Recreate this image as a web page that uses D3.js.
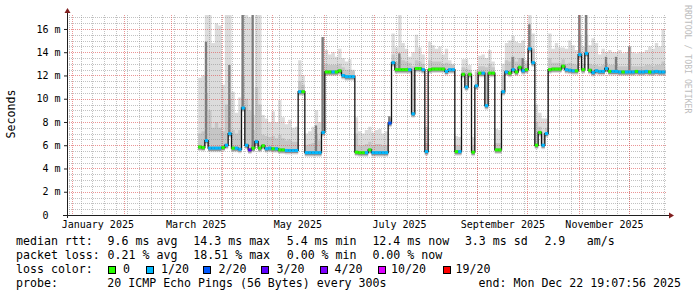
<!DOCTYPE html>
<html>
<head>
<meta charset="utf-8">
<script src="https://cdn.jsdelivr.net/npm/d3@7"></script>
<style>
  body { margin: 0; background: #fff; }
  text { font-family: "DejaVu Sans Mono", monospace; fill: #000; }
</style>
</head>
<body>
<svg id="chart" width="697" height="297"></svg>
<script>
// smokeping year graph, values in ms, one bin every 2 days
const binStart = Date.UTC(2025, 2, 17, 12);   // first bin, 2025-03-17 12:00
const binDays = 2;

const median = [
  5.85, 5.8, 6.4, 5.75, 5.75, 5.75, 5.75, 5.8, 6.0, 7.0,
  5.75, 5.75, 5.65, 9.2, 6.0, 5.6, 5.75, 6.3, 5.75, 5.95,
  5.7, 5.75, 5.7, 5.7, 5.6, 5.6, 5.55, 5.55, 5.55, 5.55,
  10.6, 10.6, 5.36, 5.36, 5.36, 5.36, 5.36, 7.1, 12.3, 12.3,
  12.3, 12.3, 12.4, 12.0, 11.9, 11.9, 11.9, 5.4, 5.36, 5.36,
  5.36, 5.6, 5.36, 5.36, 5.36, 5.36, 5.36, 7.9, 13.1, 12.5,
  12.5, 12.5, 12.5, 12.5, 8.7, 12.6, 12.6, 12.5, 5.45, 12.5,
  12.55, 12.55, 12.55, 12.55, 12.35, 12.5, 12.5, 5.45, 5.45, 12.1,
  11.0, 12.1, 5.4, 11.1, 12.2, 12.2, 9.4, 12.2, 12.2, 5.6,
  5.6, 10.6, 12.3, 12.2, 12.5, 12.3, 12.7, 12.4, 12.5, 14.3,
  13.1, 6.0, 7.1, 6.0, 7.0, 12.5, 12.55, 12.55, 12.55, 12.8,
  12.5, 12.45, 12.4, 12.4, 13.8, 12.5, 13.9, 12.45, 12.25, 12.4,
  12.35, 12.35, 12.6, 12.35, 12.35, 12.35, 12.3, 12.3, 12.3, 12.3,
  12.3, 12.35, 12.3, 12.3, 12.35, 12.3, 12.3, 12.35, 12.3, 12.3, 12.3
];

// lost pings out of 20
const loss = [
  0, 0, 1, 1, 1, 1, 1, 0, 1, 1,
  0, 1, 1, 1, 1, 3, 0, 1, 0, 0,
  1, 1, 0, 1, 0, 0, 1, 1, 1, 1,
  1, 0, 1, 1, 1, 1, 1, 1, 0, 0,
  1, 0, 0, 1, 1, 1, 1, 0, 0, 0,
  1, 0, 1, 1, 1, 1, 1, 2, 1, 0,
  0, 0, 0, 1, 1, 0, 0, 1, 1, 0,
  0, 0, 0, 0, 1, 1, 1, 0, 1, 0,
  1, 0, 0, 1, 0, 1, 1, 0, 0, 0,
  0, 1, 1, 0, 1, 0, 0, 1, 0, 1,
  1, 0, 0, 1, 1, 0, 0, 0, 0, 0,
  1, 1, 1, 0, 1, 0, 1, 0, 1, 1,
  1, 1, 1, 0, 1, 1, 1, 0, 1, 1,
  1, 0, 1, 1, 1, 0, 1, 1, 1, 1, 1
];

// slowest ping of each bin (top of the light smoke)
const smokeMax = [
  11.8, 12.0, 17.3, 17.3, 14.8, 16.5, 16.3, 11.2, 17.3, 17.3,
  10.6, 8.8, 10.1, 17.3, 17.3, 17.0, 8.6, 17.3, 17.3, 8.6,
  8.3, 8.0, 8.9, 8.0, 9.9, 8.4, 7.8, 8.2, 7.5, 7.6,
  13.3, 12.0, 7.0, 7.2, 7.6, 9.0, 8.0, 15.3, 14.2, 13.8,
  14.0, 13.6, 14.3, 13.5, 13.2, 13.4, 12.5, 8.4, 7.2, 7.0,
  7.3, 7.6, 7.1, 7.3, 7.4, 7.0, 7.2, 8.0, 15.6, 14.4,
  17.2, 14.8, 14.3, 13.6, 14.0, 15.5, 14.4, 13.8, 7.6, 14.9,
  14.6, 14.3, 14.5, 13.8, 14.3, 13.3, 13.0, 6.8, 6.7, 13.4,
  13.4, 12.9, 6.7, 12.5, 13.7, 13.8, 13.5, 14.2, 13.2, 7.4,
  7.3, 13.0, 14.8, 15.0, 15.4, 14.9, 14.8, 15.0, 13.3, 17.3,
  15.6, 9.5, 8.8, 8.3, 8.3, 15.6, 14.3, 14.8, 14.4, 14.4,
  14.3, 15.0, 14.6, 14.2, 17.3, 14.5, 17.3, 14.6, 15.2, 14.8,
  13.8, 14.3, 14.0, 14.2, 14.0, 14.0, 14.2, 13.9, 14.0, 14.5,
  14.0, 13.9, 14.0, 14.0, 14.2, 14.5, 14.3, 14.8, 14.5, 16.0, 14.5
];

// top of the inner (darker) smoke band
const smokeMid = [
  7.0, 7.2, 10.5, 9.0, 7.5, 8.0, 7.5, 7.2, 9.5, 10.0,
  7.3, 7.0, 7.3, 12.0, 10.0, 9.0, 7.3, 11.0, 9.5, 6.9,
  6.8, 6.7, 6.8, 6.6, 6.9, 6.6, 6.4, 6.5, 6.3, 6.3,
  11.5, 11.2, 6.0, 6.1, 6.2, 7.0, 6.4, 13.0, 13.0, 12.9,
  12.9, 12.9, 13.0, 12.7, 12.5, 12.5, 12.4, 7.0, 6.0, 6.0,
  6.1, 6.3, 6.0, 6.1, 6.1, 6.0, 6.0, 8.3, 13.8, 13.2,
  13.6, 13.3, 13.2, 13.1, 12.8, 13.3, 13.2, 13.0, 6.2, 13.3,
  13.2, 13.2, 13.2, 13.0, 13.1, 13.0, 12.9, 6.0, 6.0, 12.7,
  12.6, 12.5, 6.0, 12.3, 12.8, 12.8, 12.7, 13.0, 12.7, 6.2,
  6.2, 12.0, 13.3, 13.2, 13.6, 13.2, 13.5, 13.2, 13.0, 16.0,
  14.3, 8.0, 7.6, 7.0, 7.5, 13.5, 13.1, 13.1, 13.1, 13.4,
  13.0, 13.1, 13.0, 12.9, 15.5, 13.0, 15.5, 13.0, 12.9, 12.9,
  12.8, 12.9, 13.1, 12.9, 12.9, 13.0, 12.8, 12.8, 12.8, 13.5,
  12.8, 12.8, 12.8, 12.8, 12.9, 12.9, 12.8, 12.9, 12.9, 13.2, 12.8
];

// narrow dark smoke columns
const spikeDates = [
  "2025-03-21T12:00Z", "2025-04-04T12:00Z", "2025-04-12T12:00Z", "2025-04-18T12:00Z",
  "2025-05-26T12:00Z", "2025-05-30T12:00Z", "2025-07-09T12:00Z", "2025-07-15T12:00Z",
  "2025-09-21T12:00Z", "2025-09-27T12:00Z", "2025-10-01T12:00Z", "2025-10-21T12:00Z",
  "2025-10-31T12:00Z", "2025-11-04T12:00Z", "2025-11-16T12:00Z", "2025-11-22T12:00Z",
  "2025-11-30T12:00Z"
];
const spikeTops = [14.9, 12.9, 17.2, 17.2, 7.7, 15.3, 8.5, 13.9, 13.6, 13.5, 16.4, 12.9, 17.2, 17.2, 13.6, 13.6, 14.5];

const yTicks = [0, 2, 4, 6, 8, 10, 12, 14, 16];
const monthLabels = ["2025-01-01", "2025-03-01", "2025-05-01", "2025-07-01", "2025-09-01", "2025-11-01"];

const lossSteps = [0, 1, 2, 3, 4, 10, 19];
const lossLabels = ["0", "1/20", "2/20", "3/20", "4/20", "10/20", "19/20"];
const lossColors = ["#26ff00", "#00b8ff", "#0059ff", "#5e00ff", "#7e00ff", "#dd00ff", "#ff0000"];

const rttStats = ["median rtt:", "9.6 ms avg", "14.3 ms max", "5.4 ms min", "12.4 ms now", "3.3 ms sd", "2.9", "am/s"];
const lossStats = ["packet loss:", "0.21 % avg", "18.51 % max", "0.00 % min", "0.00 % now"];
const probeText = ["probe:", "20 ICMP Echo Pings (56 Bytes) every 300s"];
const endText = "end: Mon Dec 22 19:07:56 2025";

// ---- layout ----
const svg = d3.select("#chart");
const plotLeft = 67, plotRight = 667, plotTop = 15, plotBottom = 215;
const DAY = 864e5;

const tStart = new Date(Date.UTC(2024, 11, 28, 19, 12));
const tEnd = new Date(tStart.getTime() + 360 * DAY);
const dataEnd = new Date(Date.UTC(2025, 11, 22, 19, 8));

const x = d3.scaleUtc().domain([tStart, tEnd]).range([plotLeft, plotRight]);
const y = d3.scaleLinear().domain([0, 17.2]).range([plotBottom, plotTop]);

function lossColor(v) {
    let c = lossColors[0];
    lossSteps.forEach((s, i) => { if (v >= s) c = lossColors[i]; });
    return c;
}

const bins = median.map((m, i) => ({
    t: new Date(binStart + i * binDays * DAY),
    med: m, loss: loss[i], max: smokeMax[i], mid: smokeMid[i]
}));
const stepped = bins.concat([Object.assign({}, bins[bins.length - 1], { t: dataEnd })]);
const binEnd = (i) => i + 1 < bins.length ? bins[i + 1].t : dataEnd;

svg.append("rect").attr("width", 697).attr("height", 297).attr("fill", "#fff");

svg.append("defs").append("clipPath").attr("id", "plotClip")
   .append("rect").attr("x", plotLeft).attr("y", plotTop)
   .attr("width", 599).attr("height", plotBottom - plotTop);

// smoke
const plot = svg.append("g").attr("clip-path", "url(#plotClip)");

function smoke(hi, off) {
    return d3.area().curve(d3.curveStepAfter)
             .x(d => x(d.t))
             .y0(d => y(d.med) + off)
             .y1(hi);
}

plot.append("path").datum(stepped)
    .attr("d", smoke(d => y(d.max), 4)).attr("fill", "#dcdcdc");
plot.append("path").datum(stepped)
    .attr("d", smoke(d => y(d.mid), 3)).attr("fill", "#c6c6c6");

spikeDates.forEach((s, k) => {
    const t = new Date(s);
    const i = Math.round((t - binStart) / (binDays * DAY));
    plot.append("rect")
        .attr("x", x(t))
        .attr("width", Math.max(1, x(binEnd(i)) - x(t) - 1))
        .attr("y", y(spikeTops[k]))
        .attr("height", y(bins[i].med) - y(spikeTops[k]))
        .attr("fill", "#7c7c7c");
});

plot.append("path").datum(stepped)
    .attr("d", smoke(d => y(d.med) - 1.5, 2.5)).attr("fill", "#8e8e8e");

// grid on top of the smoke
const grid = svg.append("g").attr("shape-rendering", "crispEdges")
                .attr("stroke-dasharray", "1,1");
const minorY = d3.range(1, 35).map(k => k / 2).filter(v => v % 2 !== 0);
const majorY = yTicks.filter(v => v > 0);

grid.selectAll(".minY").data(minorY).enter().append("line")
    .attr("x1", plotLeft).attr("x2", plotRight)
    .attr("y1", d => Math.round(y(d)) + 0.5).attr("y2", d => Math.round(y(d)) + 0.5)
    .attr("stroke", "rgba(143,143,143,0.55)");

const weeks = d3.utcMonday.range(tStart, tEnd);
grid.selectAll(".minX").data(weeks).enter().append("line")
    .attr("x1", d => Math.round(x(d)) + 0.5).attr("x2", d => Math.round(x(d)) + 0.5)
    .attr("y1", plotTop).attr("y2", plotBottom)
    .attr("stroke", "rgba(143,143,143,0.55)");

grid.selectAll(".majY").data(majorY).enter().append("line")
    .attr("x1", plotLeft).attr("x2", plotRight)
    .attr("y1", d => Math.round(y(d)) + 0.5).attr("y2", d => Math.round(y(d)) + 0.5)
    .attr("stroke", "rgba(222,79,79,0.6)");

const months = d3.utcMonth.range(tStart, tEnd);
grid.selectAll(".majX").data(months).enter().append("line")
    .attr("x1", d => Math.round(x(d)) + 0.5).attr("x2", d => Math.round(x(d)) + 0.5)
    .attr("y1", plotTop).attr("y2", plotBottom)
    .attr("stroke", "rgba(222,79,79,0.6)");

// median line and loss colours
const lines = svg.append("g").attr("clip-path", "url(#plotClip)");
lines.append("path").datum(stepped)
     .attr("d", d3.line().curve(d3.curveStepAfter).x(d => x(d.t)).y(d => y(d.med)))
     .attr("fill", "none").attr("stroke", "#141414").attr("stroke-width", 1.3);

lines.selectAll(".seg").data(bins).enter().append("line")
     .attr("x1", d => x(d.t))
     .attr("x2", (d, i) => x(binEnd(i)))
     .attr("y1", d => y(d.med)).attr("y2", d => y(d.med))
     .attr("stroke", d => lossColor(d.loss))
     .attr("stroke-width", 3);

// axes
const yAxis = svg.append("g").attr("transform", `translate(${plotLeft},0)`)
    .call(d3.axisLeft(y).tickValues(yTicks).tickSize(3).tickPadding(3.5)
            .tickFormat(d => d === 0 ? "0\u00a0\u00a0" : d + " m"));
yAxis.select(".domain").remove();
yAxis.selectAll("line").attr("stroke", "#1f1f1f");
yAxis.selectAll("text").attr("font-size", 10).attr("font-family", "DejaVu Sans Mono");

const labelDates = monthLabels.map(s => new Date(new Date(s + "T00:00Z").getTime() + 15 * DAY));
const xAxis = svg.append("g").attr("transform", `translate(0,${plotBottom})`)
    .call(d3.axisBottom(x).tickValues(labelDates).tickSize(0).tickPadding(6)
            .tickFormat(d3.utcFormat("%B %Y")));
xAxis.select(".domain").remove();
xAxis.selectAll("text").attr("font-size", 10).attr("font-family", "DejaVu Sans Mono");

const axisG = svg.append("g").attr("shape-rendering", "crispEdges");
axisG.append("line").attr("x1", plotLeft + 0.5).attr("x2", plotLeft + 0.5).attr("y1", 218).attr("y2", 12)
     .attr("stroke", "#1f1f1f");
axisG.append("line").attr("x1", 63).attr("x2", 670)
     .attr("y1", plotBottom + 0.5).attr("y2", plotBottom + 0.5)
     .attr("stroke", "#1f1f1f");
svg.append("path").attr("d", `M${plotLeft + 0.5},8 L${plotLeft + 3.5},13 L${plotLeft - 2.5},13 Z`)
   .attr("fill", "#801f1f");
svg.append("path").attr("d", `M674,${plotBottom + 0.5} L669,${plotBottom + 3.5} L669,${plotBottom - 2.5} Z`)
   .attr("fill", "#801f1f");

svg.append("text").attr("transform", "translate(15,114) rotate(-90)")
   .attr("text-anchor", "middle").attr("font-size", 11.6).text("Seconds");

svg.append("text").attr("transform", "translate(684.5,5) rotate(90)")
   .attr("font-size", 8.2).style("fill", "#bdbdbd").text("RRDTOOL / TOBI OETIKER");

// legend
const legend = svg.append("g").attr("font-size", 11.6).style("white-space", "pre");
const rowY = [245.3, 259.3, 273.3, 287.3];
const statX = [16, 107.6, 193.3, 286.7, 372.4, 464.9, 544.4, 586.7];
rttStats.forEach((s, i) => legend.append("text").attr("x", statX[i]).attr("y", rowY[0]).text(s));
lossStats.forEach((s, i) => legend.append("text").attr("x", statX[i]).attr("y", rowY[1]).text(s));

legend.append("text").attr("x", 16).attr("y", rowY[2]).text("loss color:");
const boxX = [108.5, 146, 203.5, 261.5, 320, 378, 443];
const boxTextX = [123, 161, 218.5, 276.5, 334.5, 391, 455.5];
lossLabels.forEach((s, i) => {
    legend.append("rect").attr("x", boxX[i]).attr("y", 266.5).attr("width", 7).attr("height", 7)
          .attr("fill", lossColors[i]).attr("stroke", "#000").attr("stroke-width", 1)
          .attr("shape-rendering", "crispEdges");
    legend.append("text").attr("x", boxTextX[i]).attr("y", rowY[2]).text(s);
});

legend.append("text").attr("x", 16).attr("y", rowY[3]).text(probeText[0]);
legend.append("text").attr("x", 107.3).attr("y", rowY[3]).text(probeText[1]);
legend.append("text").attr("x", 681).attr("y", rowY[3]).attr("text-anchor", "end").text(endText);
</script>
</body>
</html>
